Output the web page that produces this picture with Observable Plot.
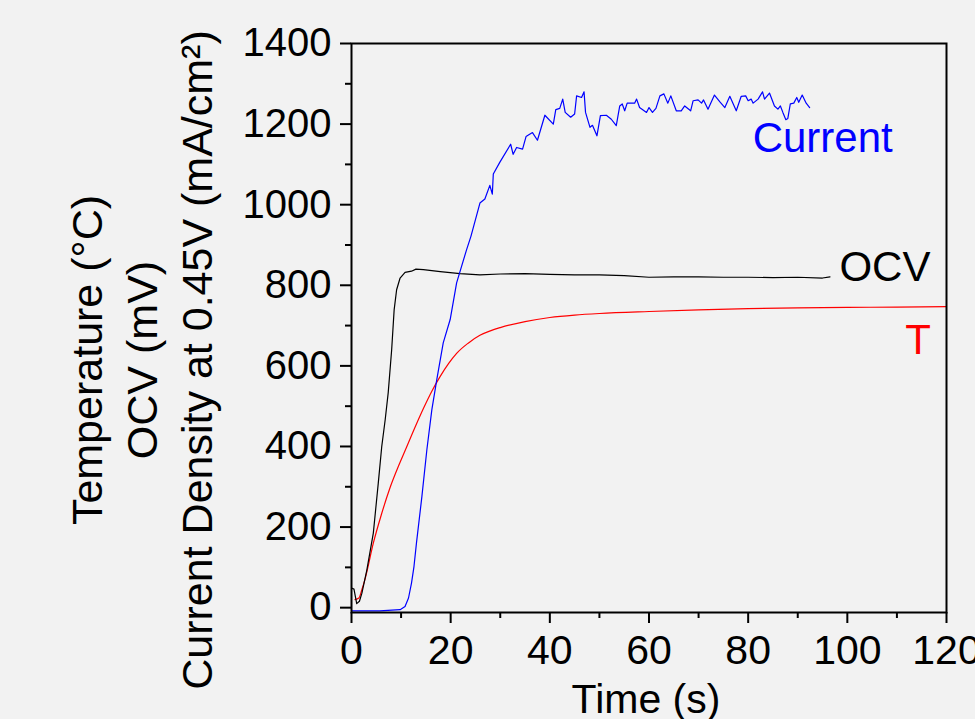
<!DOCTYPE html>
<html>
<head>
<meta charset="utf-8">
<script src="https://cdn.jsdelivr.net/npm/d3@7"></script>
<script src="https://cdn.jsdelivr.net/npm/@observablehq/plot@0.6"></script>
<style>
  html, body { margin: 0; padding: 0; background: #f2f2f2; }
</style>
</head>
<body>
<div id="chart"></div>
<script>
// Temperature (°C)
const tempT = [0.7, 1.5, 2.1, 2.8, 4.4, 6.0, 7.75, 9.5, 11.1, 12.9, 14.5, 16.2, 17.8, 19.6, 21.2, 23.6, 25.9, 28, 30, 35, 40, 45, 50, 60, 70, 80, 90, 100, 110, 120];
const tempV = [20, 24, 45, 74, 160, 230, 297, 352, 398, 450, 494, 537, 572, 606, 631, 657, 676, 687, 695, 710, 720, 726, 730, 735, 739, 742, 744, 745, 746, 747];

// OCV (mV)
const ocvT = [0, 0.5, 1.05, 1.6, 2.1, 3.1, 4.4, 5.4, 6.1, 6.8, 7.4, 8.1, 8.6, 9.1, 9.8, 10.8, 12.1, 13.0, 14.5, 17.9, 21.9, 25.9, 30, 35, 40, 45, 50, 55, 60, 65, 70, 75, 80, 85, 90, 95, 96.5];
const ocvV = [49, 46, 10, 16, 36, 94, 185, 309, 400, 467, 533, 640, 739, 789, 818, 832, 835, 840, 839, 834, 829, 826, 828, 829, 827, 826, 826, 824, 820, 821, 821, 820, 820, 819, 820, 818, 821];

// Current density at 0.45 V (mA/cm²)
const curT = [0, 5.7, 9.8, 10.8, 11.5, 12.1, 12.6, 13.1, 14.2, 15.2, 16.2, 17.2, 18.5, 19.9, 21.2, 23.2, 24.1, 25.9, 26.9, 27.9, 28.4, 28.6, 29.9, 32.1, 32.6, 33.3, 34.5, 35.2, 36.5, 37.5, 39.0, 40.7, 41.2, 42.0, 42.6, 43.1, 44.2, 45.0, 45.4, 46.4, 46.9, 47.2, 48.1, 48.6, 49.5, 50.2, 51.4, 52.4, 53.4, 54.1, 54.6, 55.1, 55.6, 57.1, 57.5, 58.1, 59.5, 60.0, 60.7, 61.4, 62.2, 63.0, 63.8, 64.4, 65.5, 66.5, 67.2, 68.4, 68.9, 69.9, 70.6, 71.0, 71.9, 73.2, 74.3, 75.3, 76.3, 77.6, 78.6, 79.5, 80.0, 80.6, 81.0, 82.0, 82.9, 83.3, 84.3, 85.3, 86.0, 86.5, 87.0, 87.6, 88.0, 88.5, 89.2, 89.8, 90.2, 90.9, 91.7, 92.4];
const curV = [-8, -8, -5, 3, 24, 61, 102, 160, 276, 392, 491, 566, 657, 715, 806, 888, 922, 1004, 1014, 1048, 1026, 1076, 1105, 1150, 1125, 1142, 1138, 1169, 1179, 1160, 1222, 1200, 1236, 1239, 1262, 1229, 1217, 1225, 1270, 1266, 1280, 1229, 1192, 1197, 1171, 1221, 1222, 1212, 1196, 1245, 1250, 1233, 1252, 1252, 1262, 1241, 1229, 1241, 1229, 1239, 1270, 1275, 1252, 1270, 1233, 1233, 1245, 1233, 1258, 1260, 1252, 1260, 1237, 1272, 1255, 1241, 1269, 1233, 1269, 1270, 1258, 1262, 1252, 1262, 1280, 1262, 1277, 1245, 1237, 1245, 1229, 1211, 1214, 1250, 1252, 1266, 1254, 1272, 1252, 1241];

const xMajor = [0, 20, 40, 60, 80, 100, 120];
const xMinor = [10, 30, 50, 70, 90, 110];
const yMajor = [0, 200, 400, 600, 800, 1000, 1200, 1400];
const yMinor = [100, 300, 500, 700, 900, 1100, 1300];

const seriesNames = ["Current", "OCV", "T"];
const xTitle = "Time (s)";
const yTitle = "Temperature (°C)\nOCV (mV)\nCurrent Density at 0.45V (mA/cm²)";

const zip = (t, v) => t.map((d, i) => [d, v[i]]);

const chart = Plot.plot({
  width: 975,
  height: 719,
  marginLeft: 351,
  marginRight: 29,
  marginTop: 43,
  marginBottom: 107,
  style: {
    background: "#f2f2f2",
    fontFamily: "Arial, 'Liberation Sans', sans-serif",
    color: "black",
    overflow: "visible"
  },
  x: { domain: [0, 120] },
  y: { domain: [-12, 1400] },
  marks: [
    Plot.line(zip(tempT, tempV), { stroke: "#ff0000", strokeWidth: 1.2, curve: "monotone-x" }),
    Plot.line(zip(ocvT, ocvV), { stroke: "black", strokeWidth: 1.2 }),
    Plot.line(zip(curT, curV), { stroke: "#0000ff", strokeWidth: 1.2 }),
    Plot.frame({ stroke: "black", strokeWidth: 2 }),
    Plot.axisX({ ticks: xMajor, tickSize: 11, tickPadding: 11, fontSize: 41, strokeWidth: 2, tickFormat: d => String(d), label: null }),
    Plot.axisX({ ticks: xMinor, tickSize: 6, tickFormat: () => "", strokeWidth: 2, label: null }),
    Plot.axisY({ ticks: yMajor, tickSize: 11, tickPadding: 9, fontSize: 40, strokeWidth: 2, tickFormat: d => String(d), label: null }),
    Plot.axisY({ ticks: yMinor, tickSize: 6, tickFormat: () => "", strokeWidth: 2, label: null }),
    Plot.text([xTitle], { text: d => d, frameAnchor: "bottom", textAnchor: "middle", lineAnchor: "middle", dx: -3, dy: 87, fontSize: 41 }),
    Plot.text([yTitle], { text: d => d, frameAnchor: "left", textAnchor: "middle", lineAnchor: "middle", rotate: -90, dx: -212, dy: 32, fontSize: 43, lineHeight: 1.28 }),
    Plot.text([seriesNames[0]], { text: d => d, x: 80.9, y: 1164, textAnchor: "start", fontSize: 42, fill: "#0000ff" }),
    Plot.text([seriesNames[1]], { text: d => d, x: 98.4, y: 845, textAnchor: "start", fontSize: 42, fill: "black" }),
    Plot.text([seriesNames[2]], { text: d => d, x: 111.7, y: 664, textAnchor: "start", fontSize: 42, fill: "#ff0000" })
  ]
});
document.getElementById("chart").appendChild(chart);
</script>
</body>
</html>
